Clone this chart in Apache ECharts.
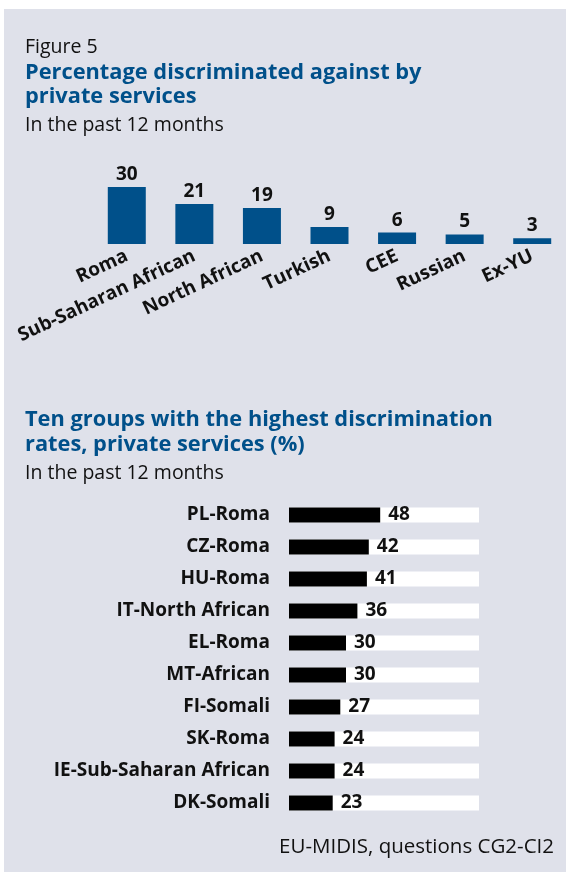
<!DOCTYPE html>
<html>
<head>
<meta charset="utf-8">
<script src="https://cdn.jsdelivr.net/npm/echarts@6/dist/echarts.min.js"></script>
<style>
  html, body { margin: 0; padding: 0; background: #fff; }
  #chart { width: 566px; height: 872px; }
</style>
</head>
<body>
<div id="chart"></div>
<script>
// top chart: by group
const groups = ['Roma', 'Sub-Saharan African', 'North African', 'Turkish', 'CEE', 'Russian', 'Ex-YU'];
const groupRates = [30, 21, 19, 9, 6, 5, 3];

// bottom chart: ten highest groups
const topGroups = ['PL-Roma', 'CZ-Roma', 'HU-Roma', 'IT-North African', 'EL-Roma', 'MT-African',
  'FI-Somali', 'SK-Roma', 'IE-Sub-Saharan African', 'DK-Somali'];
const topRates = [48, 42, 41, 36, 30, 30, 27, 24, 24, 23];

const FONT = '"Open Sans", "Noto Sans", sans-serif';
const BLUE = '#00508a';
const PANEL = '#dfe1ea';

const chart = echarts.init(document.getElementById('chart'));

// text helper, y is roughly the baseline
const txt = (text, x, y, size, opts = {}) => ({
  type: 'text',
  x: x,
  y: y + Math.round(size * 0.24),
  silent: true,
  style: Object.assign({
    text: text,
    fill: '#111',
    font: (opts.bold ? 'bold ' : '') + size + 'px ' + FONT,
    verticalAlign: 'bottom',
    align: 'left',
  }, opts.style || {}),
});

const option = {
  backgroundColor: '#fff',
  animation: false,
  graphic: [
    { type: 'rect', z: -10, shape: { x: 4, y: 9, width: 562, height: 863 }, style: { fill: PANEL } },
    txt('Figure 5', 25, 52, 19.5),
    txt('Percentage discriminated against by', 25, 79, 21.8, { bold: true, style: { fill: BLUE } }),
    txt('private services', 25, 103, 21.8, { bold: true, style: { fill: BLUE } }),
    txt('In the past 12 months', 25, 130, 19.5),
    txt('Ten groups with the highest discrimination', 25, 426, 21.8, { bold: true, style: { fill: BLUE } }),
    txt('rates, private services (%)', 25, 451, 21.8, { bold: true, style: { fill: BLUE } }),
    txt('In the past 12 months', 25, 478, 19.5),
    txt('EU-MIDIS, questions CG2-CI2', 554, 853, 20.5, { style: { align: 'right' } }),
  ],
  grid: [
    { left: 93, top: 187, width: 476, height: 57 },
    { left: 289, top: 499, width: 190, height: 320 },
  ],
  xAxis: [
    {
      gridIndex: 0,
      type: 'category',
      data: groups,
      axisLine: { show: false },
      axisTick: { show: false },
      axisLabel: {
        rotate: 25,
        interval: 0,
        margin: 11,
        color: '#111',
        fontFamily: FONT,
        fontWeight: 'bold',
        fontSize: 19,
      },
    },
    {
      gridIndex: 1,
      type: 'value',
      min: 0,
      max: 100,
      show: false,
    },
  ],
  yAxis: [
    { gridIndex: 0, type: 'value', min: 0, max: 30, show: false },
    {
      gridIndex: 1,
      type: 'category',
      data: topGroups,
      inverse: true,
      axisLine: { show: false },
      axisTick: { show: false },
      axisLabel: {
        margin: 19,
        color: '#111',
        fontFamily: FONT,
        fontWeight: 'bold',
        fontSize: 19,
      },
    },
  ],
  series: [
    {
      type: 'bar',
      xAxisIndex: 0,
      yAxisIndex: 0,
      data: groupRates,
      barWidth: 38,
      itemStyle: { color: BLUE },
      label: {
        show: true,
        position: 'top',
        distance: 3,
        color: '#111',
        fontFamily: FONT,
        fontWeight: 'bold',
        fontSize: 19,
      },
    },
    {
      type: 'bar',
      xAxisIndex: 1,
      yAxisIndex: 1,
      data: topRates,
      barWidth: 15,
      showBackground: true,
      backgroundStyle: { color: '#fff' },
      itemStyle: { color: '#000' },
      label: {
        show: true,
        position: 'right',
        distance: 8,
        color: '#111',
        fontFamily: FONT,
        fontWeight: 'bold',
        fontSize: 19,
      },
    },
  ],
};

chart.setOption(option);
</script>
</body>
</html>
